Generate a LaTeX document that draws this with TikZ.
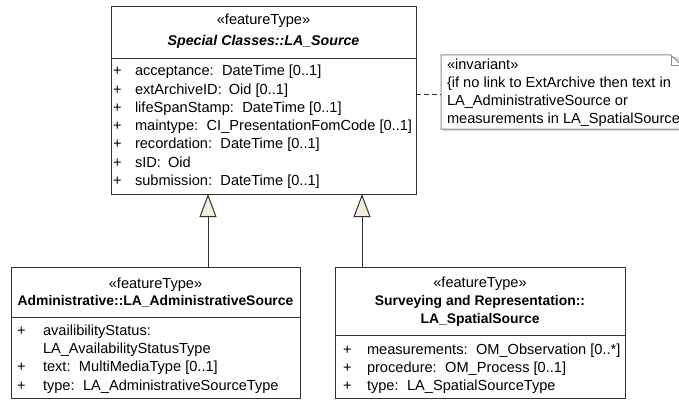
\documentclass[tikz,border=0pt]{standalone}
\usepackage{fontspec}
\setmainfont{Liberation Sans}
\usetikzlibrary{arrows.meta}
\definecolor{linec}{RGB}{50,50,50}
\definecolor{notec}{RGB}{140,140,140}
\definecolor{cream}{RGB}{246,236,218}
\begin{document}
\begin{tikzpicture}[x=1pt,y=-1pt,
  every node/.style={inner sep=0pt, outer sep=0pt},
  cls/.style={draw=linec, line width=1pt, fill=white, anchor=north west},
  lbl/.style={anchor=base west, font=\fontsize{14.6}{18}\selectfont},
  ttl/.style={anchor=base, font=\fontsize{14.6}{18}\selectfont},
  bttl/.style={anchor=base, font=\fontsize{13.9}{18}\selectfont\bfseries},
  divline/.style={draw=linec, line width=1pt},
  gen/.style={draw=linec, line width=1pt, -{Triangle[length=23pt,width=17pt,fill=cream]}},
  dashcon/.style={draw=linec, line width=1pt, dash pattern=on 5pt off 3pt}]
\useasboundingbox (0,0) rectangle (679,401);

% ---------- LA_Source ----------
\node[cls, minimum width=305pt, minimum height=187pt] (src) at (111,7) {};
\draw[divline] (src.west |- 0,59) -- (src.east |- 0,59);
\node[ttl] (srcS) at (263.5,25) {«featureType»};
\node[bttl, font=\fontsize{14.2}{18}\selectfont\bfseries\itshape] (srcN) at (263.5,46) {Special Classes::LA\_Source};
\node[lbl] (sp1) at (113,76) {+};   \node[lbl] (sa1) at (135,76) {acceptance:\kern3pt{} DateTime [0..1]};
\node[lbl] (sp2) at (113,94.2) {+}; \node[lbl] (sa2) at (135,94.2) {extArchiveID:\kern3pt{} Oid [0..1]};
\node[lbl] (sp3) at (113,112.4) {+}; \node[lbl] (sa3) at (135,112.4) {lifeSpanStamp:\kern3pt{} DateTime [0..1]};
\node[lbl] (sp4) at (113,130.6) {+}; \node[lbl] (sa4) at (135,130.6) {maintype:\kern3pt{} CI\_PresentationFomCode [0..1]};
\node[lbl] (sp5) at (113,148.8) {+}; \node[lbl] (sa5) at (135,148.8) {recordation:\kern3pt{} DateTime [0..1]};
\node[lbl] (sp6) at (113,167) {+};   \node[lbl] (sa6) at (135,167) {sID:\kern3pt{} Oid};
\node[lbl] (sp7) at (113,185.2) {+}; \node[lbl] (sa7) at (135,185.2) {submission:\kern3pt{} DateTime [0..1]};

% ---------- LA_AdministrativeSource ----------
\node[cls, minimum width=289pt, minimum height=131pt] (adm) at (11,267) {};
\draw[divline] (adm.west |- 0,317) -- (adm.east |- 0,317);
\node[ttl] (admS) at (155.5,288) {«featureType»};
\node[bttl] (admN) at (155.5,305) {Administrative::LA\_AdministrativeSource};
\node[lbl] (ap1) at (17,335) {+};   \node[lbl] (aa1) at (43,335) {availibilityStatus:};
\node[lbl] (aa1b) at (43,353.3) {LA\_AvailabilityStatusType};
\node[lbl] (ap2) at (17,371.6) {+}; \node[lbl] (aa2) at (43,371.6) {text:\kern3pt{} MultiMediaType [0..1]};
\node[lbl] (ap3) at (17,390) {+};   \node[lbl] (aa3) at (43,390) {type:\kern3pt{} LA\_AdministrativeSourceType};

% ---------- LA_SpatialSource ----------
\node[cls, minimum width=290pt, minimum height=131pt] (spa) at (335,267) {};
\draw[divline] (spa.west |- 0,335) -- (spa.east |- 0,335);
\node[ttl] (spaS) at (480,287) {«featureType»};
\node[bttl] (spaN1) at (480,305) {Surveying and Representation::};
\node[bttl] (spaN2) at (480,323) {LA\_SpatialSource};
\node[lbl] (bp1) at (343,354) {+}; \node[lbl] (ba1) at (367,354) {measurements:\kern3pt{} OM\_Observation [0..*]};
\node[lbl] (bp2) at (343,372) {+}; \node[lbl] (ba2) at (367,372) {procedure:\kern3pt{} OM\_Process [0..1]};
\node[lbl] (bp3) at (343,390) {+}; \node[lbl] (ba3) at (367,390) {type:\kern3pt{} LA\_SpatialSourceType};

% ---------- generalizations ----------
\coordinate (gA) at (208,0);
\coordinate (gB) at (362,0);
\draw[gen] (adm.north -| gA) -- (src.south -| gA);
\draw[gen] (spa.north -| gB) -- (src.south -| gB);

% ---------- invariant note ----------
\node[anchor=north west, minimum width=241pt, minimum height=74pt] (note) at (441,55) {};
\fill[gray!30] ([shift={(2,2)}]note.south west) rectangle ([shift={(2,2)}]note.north east);
\filldraw[draw=notec, fill=white, line width=1pt]
  (note.north west) -- ([shift={(-11,0)}]note.north east) -- ([shift={(0,11)}]note.north east)
  -- (note.south east) -- (note.south west) -- cycle;
\draw[notec, line width=1pt] ([shift={(-11,0)}]note.north east) -- ([shift={(-11,11)}]note.north east) -- ([shift={(0,11)}]note.north east);
\node[lbl] (n1) at (447,70) {«invariant»};
\node[lbl] (n2) at (447,88) {\{if no link to ExtArchive then text in};
\node[lbl] (n3) at (447,106) {LA\_AdministrativeSource or};
\node[lbl] (n4) at (447,124) {measurements in LA\_SpatialSource};

\draw[dashcon] (src.east |- 0,95) -- (note.west |- 0,95);
\end{tikzpicture}
\end{document}
